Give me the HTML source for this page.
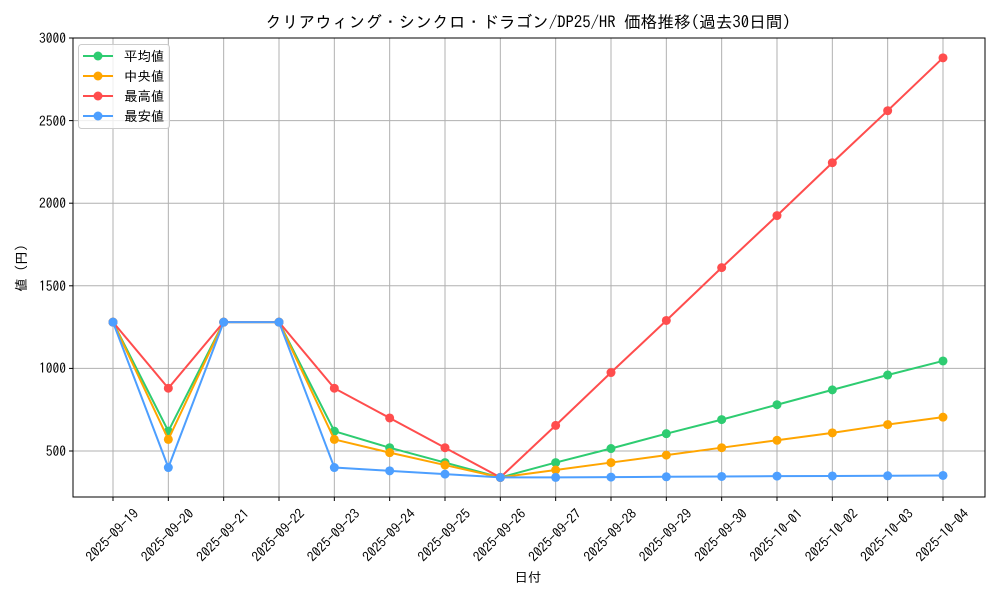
<!DOCTYPE html>
<html><head><meta charset="utf-8"><style>
body{margin:0;background:#fff}
svg{display:block;font-family:"IPAGothic","Noto Sans CJK JP",sans-serif}
</style></head><body>
<svg id="s" width="1000" height="600" xmlns="http://www.w3.org/2000/svg">
<rect width="1000" height="600" fill="#fff"/>
<g id="grid" stroke="#b0b0b0" stroke-width="1"></g>
<g id="series"></g>
<rect x="73" y="38" width="912" height="459" fill="none" stroke="#000" stroke-width="1"/>
<g id="ticks" stroke="#000"></g>
<text x="528" y="28" font-size="16.7" text-anchor="middle">クリアウィング・シンクロ・ドラゴン/DP25/HR 価格推移(過去30日間)</text>
<g font-size="13.5" text-anchor="end">
<text x="66" y="43">3000</text><text x="66" y="126">2500</text><text x="66" y="208">2000</text>
<text x="66" y="291">1500</text><text x="66" y="373">1000</text><text x="66" y="456">500</text>
</g>
<g font-size="13.5" text-anchor="middle" dominant-baseline="middle">
<text transform="translate(113,536) rotate(-45)">2025-09-19</text>
<text transform="translate(168.3,536) rotate(-45)">2025-09-20</text>
<text transform="translate(223.7,536) rotate(-45)">2025-09-21</text>
<text transform="translate(279,536) rotate(-45)">2025-09-22</text>
<text transform="translate(334.3,536) rotate(-45)">2025-09-23</text>
<text transform="translate(389.7,536) rotate(-45)">2025-09-24</text>
<text transform="translate(445,536) rotate(-45)">2025-09-25</text>
<text transform="translate(500.3,536) rotate(-45)">2025-09-26</text>
<text transform="translate(555.7,536) rotate(-45)">2025-09-27</text>
<text transform="translate(611,536) rotate(-45)">2025-09-28</text>
<text transform="translate(666.3,536) rotate(-45)">2025-09-29</text>
<text transform="translate(721.7,536) rotate(-45)">2025-09-30</text>
<text transform="translate(777,536) rotate(-45)">2025-10-01</text>
<text transform="translate(832.3,536) rotate(-45)">2025-10-02</text>
<text transform="translate(887.7,536) rotate(-45)">2025-10-03</text>
<text transform="translate(943,536) rotate(-45)">2025-10-04</text>
</g>
<text x="528" y="582" font-size="13.5" text-anchor="middle">日付</text>
<text transform="translate(26,268) rotate(-90)" font-size="13.5" text-anchor="middle">値 (円)</text>
<rect x="78.5" y="44.5" width="91" height="84" rx="3" fill="#fff" fill-opacity="0.8" stroke="#ccc"/>
<g stroke-width="2">
<line x1="83" y1="56" x2="113" y2="56" stroke="#2ecc71"/><circle cx="98" cy="56" r="4.5" fill="#2ecc71"/>
<line x1="83" y1="76" x2="113" y2="76" stroke="#ffa500"/><circle cx="98" cy="76" r="4.5" fill="#ffa500"/>
<line x1="83" y1="96" x2="113" y2="96" stroke="#ff4d4d"/><circle cx="98" cy="96" r="4.5" fill="#ff4d4d"/>
<line x1="83" y1="116" x2="113" y2="116" stroke="#4d9fff"/><circle cx="98" cy="116" r="4.5" fill="#4d9fff"/>
</g>
<g font-size="13.5">
<text x="124" y="61">平均値</text><text x="124" y="81">中央値</text>
<text x="124" y="101">最高値</text><text x="124" y="121">最安値</text>
</g>
</svg>
<script>
const NS="http://www.w3.org/2000/svg";
const X=i=>113+i*55.333, Y=v=>451-(v-500)*0.1652;
const g=document.getElementById('grid'),t=document.getElementById('ticks'),s=document.getElementById('series');
function el(p,tag,a){const e=document.createElementNS(NS,tag);for(const k in a)e.setAttribute(k,a[k]);p.appendChild(e);return e;}
for(let i=0;i<16;i++){el(g,'line',{x1:X(i),x2:X(i),y1:38,y2:497});el(t,'line',{x1:X(i),x2:X(i),y1:497,y2:501});}
for(const v of [500,1000,1500,2000,2500,3000]){el(g,'line',{x1:73,x2:985,y1:Y(v),y2:Y(v)});el(t,'line',{x1:69,x2:73,y1:Y(v),y2:Y(v)});}
const data=[
["#ff4d4d",[1280,880,1280,1280,880,700,520,340,655,975,1290,1610,1925,2245,2560,2880]],
["#2ecc71",[1280,620,1280,1280,620,520,430,340,430,515,605,690,780,870,960,1045]],
["#ffa500",[1280,570,1280,1280,570,490,415,340,385,430,475,520,565,610,660,705]],
["#4d9fff",[1280,400,1280,1280,400,380,360,340,340,342,344,346,348,349,350,352]]];
const order=[1,2,0,3];
for(const k of order){const [c,d]=data[k];
el(s,'polyline',{points:d.map((v,i)=>X(i)+','+Y(v)).join(' '),fill:'none',stroke:c,'stroke-width':2});
d.forEach((v,i)=>el(s,'circle',{cx:X(i),cy:Y(v),r:4.5,fill:c}));}
</script>
</body></html>
